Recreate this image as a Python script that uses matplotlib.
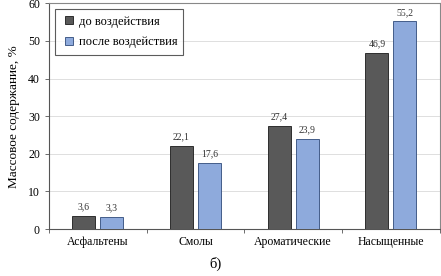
import matplotlib
matplotlib.use("Agg")
import matplotlib.pyplot as plt
from matplotlib.lines import Line2D
import numpy as np

categories = ["Асфальтены", "Смолы", "Ароматические", "Насыщенные"]
before = [3.6, 22.1, 27.4, 46.9]
after = [3.3, 17.6, 23.9, 55.2]
series_names = ["до воздействия", "после воздействия"]

plt.rcParams['font.family'] = ['Liberation Serif', 'DejaVu Serif']

fig = plt.figure(figsize=(4.41, 2.76), dpi=100)
ax = fig.add_axes([0.111, 0.170, 0.886, 0.818])

c1, e1 = '#595959', '#1a1a1a'
c2, e2 = '#8eaadc', '#2f4a7a'

x = np.arange(len(categories))
w = 0.235
g = 0.025
b1 = ax.bar(x - w/2 - g, before, w, color=c1, edgecolor=e1, linewidth=0.6, zorder=3)
b2 = ax.bar(x + w/2 + g, after, w, color=c2, edgecolor=e2, linewidth=0.6, zorder=3)

for rect, v in zip(list(b1) + list(b2), before + after):
    ax.text(rect.get_x() + rect.get_width()/2, v + 1.2, f"{v:.1f}".replace('.', ','),
            ha='center', va='bottom', fontsize=7, color='#333333')

ax.set_xlim(-0.5, len(categories) - 0.5)
ax.set_ylim(0, 60)
ax.set_yticks([0, 10, 20, 30, 40, 50, 60])
ax.set_xticks(x)
ax.set_xticklabels(categories)
ax.set_xticks(np.arange(-0.5, len(categories)), minor=True)
ax.tick_params(axis='x', which='major', length=0, labelsize=8.5, pad=5)
ax.tick_params(axis='x', which='minor', length=3, width=0.6, color='#555555')
ax.tick_params(axis='y', length=3, width=0.6, labelsize=8.5, color='#555555')
ax.yaxis.grid(True, color='#d9d9d9', linewidth=0.6, zorder=0)
ax.set_axisbelow(True)

for s in ['left', 'bottom']:
    ax.spines[s].set_color('#555555')
    ax.spines[s].set_linewidth(0.8)
for s in ['top', 'right']:
    ax.spines[s].set_color('#888888')
    ax.spines[s].set_linewidth(0.8)

ax.set_ylabel("Массовое содержание, %", fontsize=9.5, labelpad=6)

handles = [Line2D([], [], linestyle='none', marker='s', markersize=5.5,
                  markerfacecolor=c1, markeredgecolor=e1, markeredgewidth=0.6),
           Line2D([], [], linestyle='none', marker='s', markersize=5.5,
                  markerfacecolor=c2, markeredgecolor=e2, markeredgewidth=0.6)]
leg = ax.legend(handles, series_names, loc='upper left', bbox_to_anchor=(0.015, 0.973),
                borderaxespad=0, fontsize=9, frameon=True, fancybox=False,
                edgecolor='#333333', handlelength=1.2, handletextpad=0.2,
                borderpad=0.5, labelspacing=0.7, numpoints=1)
leg.get_frame().set_linewidth(0.8)

fig.text(0.488, 0.045, "б)", fontsize=10.5, ha='center', va='center')

fig.savefig("out.png", dpi=100)
